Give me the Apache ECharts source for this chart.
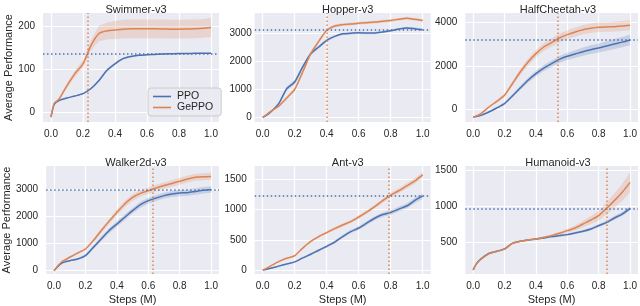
<!DOCTYPE html>
<html><head><meta charset="utf-8">
<script src="https://cdn.jsdelivr.net/npm/echarts@6/dist/echarts.min.js"></script>
<style>html,body{margin:0;padding:0;background:#fff}#c{width:640px;height:306px}</style>
</head><body><div id="c"></div>
<script>
// ---------- data ----------
const steps = [0,0.02,0.05,0.1,0.15,0.2,0.25,0.3,0.35,0.4,0.45,0.5,0.55,0.6,0.65,0.7,0.75,0.8,0.85,0.9,0.95,1.0];
const xTicks = [0,0.2,0.4,0.6,0.8,1.0];
const titles = ['Swimmer-v3','Hopper-v3','HalfCheetah-v3','Walker2d-v3','Ant-v3','Humanoid-v3'];

const swimmerPPO   = [-12,18,27,33,37.5,43,55,74,98,113,125,130,133,134,135,136,136.5,137,137,137.5,137.5,137.5];
const swimmerGePPO = [-12,20,30,62,90,113,156,184,190,192,194,195,195,195,195,194.5,194,194,194.5,195,196,198];
const swimmerPPOBand   = [0,1,1,1,1,1.5,2,3,3,3,2.5,2,2,1.5,1.5,1.5,1.5,1.5,1.5,1.5,1.5,1.5];
const swimmerGePPOBand = [0,2,3,6,8,8,12,18,20,21,22,22,22,22,22,22,22,22,22,22,22,22];

const hopperPPO   = [0,60,190,490,1020,1260,1800,2270,2510,2750,2890,2980,3000,3020,3010,3010,3050,3095,3150,3190,3165,3130];
const hopperGePPO = [0,80,215,400,690,1000,1620,2270,2710,3110,3260,3310,3330,3360,3380,3400,3430,3460,3500,3540,3500,3460];
const hopperPPOBand   = [0,15,30,50,80,80,70,60,50,50,40,40,40,40,40,40,40,40,40,40,40,40];
const hopperGePPOBand = [0,15,30,50,60,70,80,70,60,50,50,50,50,50,50,50,50,50,50,50,50,50];

const cheetahPPO   = [-355,-330,-280,-125,60,260,615,985,1340,1645,1905,2105,2305,2445,2550,2660,2750,2830,2920,3010,3100,3200];
const cheetahGePPO = [-355,-310,-200,105,365,645,1180,1720,2180,2570,2875,3075,3290,3445,3570,3675,3740,3785,3800,3815,3840,3875];
const cheetahPPOBand   = [0,10,20,30,50,60,80,100,120,130,140,150,160,170,180,190,200,210,220,230,240,250];
const cheetahGePPOBand = [0,10,20,40,60,80,110,140,160,170,180,190,200,200,210,210,220,220,220,230,230,230];

const walkerPPO   = [0,130,285,370,430,555,860,1170,1475,1720,1970,2215,2435,2585,2680,2770,2830,2865,2880,2925,2965,3000];
const walkerGePPO = [0,150,330,495,650,800,1110,1475,1820,2150,2460,2705,2855,2950,3050,3140,3220,3300,3385,3445,3470,3480];
const walkerPPOBand   = [0,10,20,30,40,50,70,80,90,100,100,100,110,110,110,110,110,120,120,120,120,120];
const walkerGePPOBand = [0,10,20,30,40,50,70,90,100,110,120,120,120,120,120,120,120,130,130,130,130,130];

const antPPO   = [10,20,40,75,110,145,210,270,335,400,470,560,640,700,780,860,920,955,1010,1060,1150,1225];
const antGePPO = [10,35,80,150,205,245,370,480,560,625,690,750,805,880,960,1050,1150,1240,1310,1390,1470,1570];
const antPPOBand   = [0,3,5,8,10,12,15,18,20,22,25,25,28,30,30,32,35,38,40,42,45,45];
const antGePPOBand = [0,3,5,8,10,12,15,18,20,22,25,25,28,30,30,32,35,38,40,42,45,45];

const humanoidPPO   = [121,204,275,352,380,413,491,519,537,551,565,584,598,612,635,658,690,736,782,843,898,977];
const humanoidGePPO = [121,205,270,345,378,410,490,519,537,551,574,598,630,667,704,760,815,875,977,1084,1200,1338];
const humanoidPPOBand   = [0,5,8,10,10,10,10,10,10,10,12,12,14,15,16,18,20,22,24,26,28,30];
const humanoidGePPOBand = [0,5,8,10,10,10,10,10,10,12,15,18,22,28,35,45,55,70,85,100,120,140];

const yTickLabels = [[0,100,200],[0,1000,2000,3000],[0,2000,4000],[0,1000,2000,3000],[0,500,1000,1500],[500,1000,1500]];
const yRanges = [[-23.4,232],[-168,3725],[-586,4444],[-122,3863],[-54,1716],[65,1565]];
const refLineY = [137.5,3143,3212,3003,1236,977];   // PPO final performance
const refLineX = [0.229,0.404,0.54,0.629,0.79,0.85]; // GePPO reaches it

const ppoData = [swimmerPPO,hopperPPO,cheetahPPO,walkerPPO,antPPO,humanoidPPO];
const gepData = [swimmerGePPO,hopperGePPO,cheetahGePPO,walkerGePPO,antGePPO,humanoidGePPO];
const ppoBands = [swimmerPPOBand,hopperPPOBand,cheetahPPOBand,walkerPPOBand,antPPOBand,humanoidPPOBand];
const gepBands = [swimmerGePPOBand,hopperGePPOBand,cheetahGePPOBand,walkerGePPOBand,antGePPOBand,humanoidGePPOBand];

// ---------- layout ----------
const BLUE = '#4C72B0', ORANGE = '#DD8452', BG = '#EAEAF2', TXT = '#262626';
const FONT = 'Liberation Sans, Arial, sans-serif';
const gridPos = [
  {left:43, top:13, width:176, height:109},
  {left:254.7, top:13, width:176, height:109},
  {left:465.3, top:13, width:175.3, height:109},
  {left:43, top:166, width:176, height:108},
  {left:254.7, top:166, width:176, height:108},
  {left:465.3, top:166, width:175.3, height:108}
];
const labelMargin = [8,3,8,8,8,8];

const grids=[], xAxes=[], yAxes=[], series=[], titleArr=[];
function pairs(xs, ys){ return xs.map((x,i)=>[x,ys[i]]); }
function band(gi, mid, half, color){
  return {
    type:'custom', xAxisIndex:gi, yAxisIndex:gi, silent:true, clip:true, z:1,
    data:[[0,0]],
    renderItem:function(params, api){
      const pts=[];
      for(let i=0;i<steps.length;i++) pts.push(api.coord([steps[i], mid[i]+half[i]]));
      for(let i=steps.length-1;i>=0;i--) pts.push(api.coord([steps[i], mid[i]-half[i]]));
      return {type:'polygon', shape:{points:pts}, style:{fill:color, opacity:0.22}};
    }
  };
}
for(let g=0; g<6; g++){
  const p = gridPos[g];
  grids.push(Object.assign({containLabel:false, backgroundColor:BG, show:true, borderWidth:0}, p));
  titleArr.push({text:titles[g], left:p.left+p.width/2, top:g<3?-1:152, textAlign:'center',
    textStyle:{fontSize:11, fontWeight:'normal', color:TXT, fontFamily:FONT}});
  xAxes.push({
    type:'value', gridIndex:g, min:-0.05, max:1.05,
    axisLine:{show:false}, axisTick:{show:false, customValues:xTicks},
    axisLabel:{customValues:xTicks, color:TXT, fontSize:10, fontFamily:FONT, margin:7,
      formatter:v=>v.toFixed(1)},
    splitLine:{show:true, lineStyle:{color:'#ffffff', width:1.2}},
    name: g>=3 ? 'Steps (M)' : '', nameLocation:'middle', nameGap:20,
    nameTextStyle:{fontSize:11, color:TXT, fontFamily:FONT}
  });
  yAxes.push({
    type:'value', gridIndex:g, min:yRanges[g][0], max:yRanges[g][1],
    axisLine:{show:false}, axisTick:{show:false, customValues:yTickLabels[g]},
    axisLabel:{customValues:yTickLabels[g], color:TXT, fontSize:10, fontFamily:FONT, margin:labelMargin[g],
      formatter:v=>String(v)},
    splitLine:{show:true, lineStyle:{color:'#ffffff', width:1.2}},
    name: (g%3===0) ? 'Average Performance' : '', nameLocation:'middle', nameGap:29,
    nameTextStyle:{fontSize:11, color:TXT, fontFamily:FONT}
  });
  series.push(band(g, ppoData[g], ppoBands[g], BLUE));
  series.push(band(g, gepData[g], gepBands[g], ORANGE));
  series.push({
    name:'PPO', type:'line', xAxisIndex:g, yAxisIndex:g, data:pairs(steps, ppoData[g]),
    showSymbol:false, symbol:'none', smooth:0.25, color:BLUE, z:3,
    lineStyle:{width:1.5, color:BLUE},
    markLine:{silent:true, symbol:'none', label:{show:false}, animation:false,
      lineStyle:{color:BLUE, width:1.5, type:[1.5,2.5]}, data:[{yAxis:refLineY[g]}]}
  });
  series.push({
    name:'GePPO', type:'line', xAxisIndex:g, yAxisIndex:g, data:pairs(steps, gepData[g]),
    showSymbol:false, symbol:'none', smooth:0.25, color:ORANGE, z:4,
    lineStyle:{width:1.5, color:ORANGE},
    markLine:{silent:true, symbol:'none', label:{show:false}, animation:false,
      lineStyle:{color:ORANGE, width:1.5, type:[1.5,2.5]}, data:[{xAxis:refLineX[g]}]}
  });
}

const chart = echarts.init(document.getElementById('c'), null, {renderer:'canvas'});
chart.setOption({
  animation:false,
  backgroundColor:'#ffffff',
  title:titleArr,
  grid:grids, xAxis:xAxes, yAxis:yAxes, series:series,
  legend:{
    data:['PPO','GePPO'], orient:'vertical', left:148, top:88, selectedMode:false,
    icon:'rect', itemWidth:18, itemHeight:1.6, itemGap:0,
    padding:[3,8,3,5], backgroundColor:'rgba(234,234,242,0.85)', borderColor:'#cccccc',
    borderWidth:1, borderRadius:3,
    textStyle:{fontSize:10.5, lineHeight:11, color:TXT, fontFamily:FONT, padding:[0,0,0,1]}
  }
});
</script></body></html>
